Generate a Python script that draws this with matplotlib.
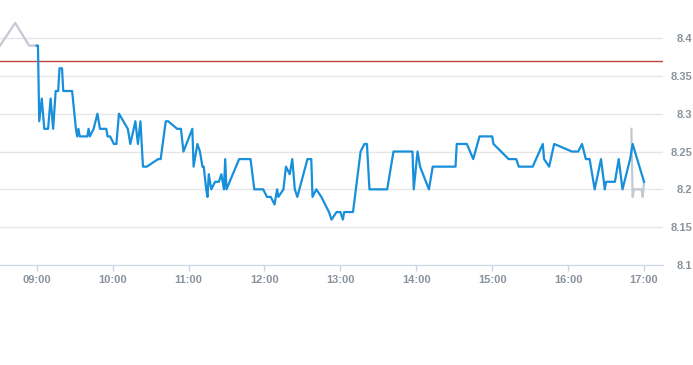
import pandas as pd
import matplotlib
matplotlib.use('Agg')
import matplotlib.pyplot as plt
import matplotlib.dates as mdates

plt.rcParams['font.family'] = ['Liberation Sans', 'DejaVu Sans']

# 盘中成交价
times = ['09:00', '09:01', '09:02', '09:04', '09:06', '09:09', '09:11', '09:13', '09:15', '09:17',
         '09:18', '09:20', '09:21', '09:28', '09:31', '09:32', '09:33', '09:34', '09:40', '09:41',
         '09:42', '09:45', '09:48', '09:50', '09:55', '09:56', '09:58', '10:01', '10:03', '10:05',
         '10:12', '10:14', '10:18', '10:20', '10:22', '10:24', '10:27', '10:36', '10:38', '10:42',
         '10:44', '10:51', '10:54', '10:56', '11:03', '11:04', '11:07', '11:09', '11:11', '11:12',
         '11:14', '11:15', '11:16', '11:18', '11:21', '11:24', '11:26', '11:27', '11:28', '11:29',
         '11:30', '11:40', '11:49', '11:52', '11:59', '12:02', '12:05', '12:08', '12:10', '12:11',
         '12:15', '12:17', '12:20', '12:22', '12:24', '12:26', '12:34', '12:37', '12:38', '12:41',
         '12:45', '12:48', '12:51', '12:53', '12:57', '13:00', '13:02', '13:03', '13:10', '13:16',
         '13:19', '13:21', '13:23', '13:37', '13:42', '13:57', '13:58', '14:01', '14:03', '14:10',
         '14:13', '14:31', '14:32', '14:40', '14:45', '14:50', '15:00', '15:01', '15:13', '15:19',
         '15:21', '15:32', '15:40', '15:41', '15:45', '15:49', '16:03', '16:08', '16:11', '16:14',
         '16:17', '16:21', '16:26', '16:29', '16:30', '16:37', '16:40', '16:43', '16:49', '16:51',
         '17:00']
prices = [8.39, 8.39, 8.29, 8.32, 8.28, 8.28, 8.32, 8.28, 8.33, 8.33,
          8.36, 8.36, 8.33, 8.33, 8.28, 8.27, 8.28, 8.27, 8.27, 8.28,
          8.27, 8.28, 8.30, 8.28, 8.28, 8.27, 8.27, 8.26, 8.26, 8.30,
          8.28, 8.26, 8.29, 8.26, 8.29, 8.23, 8.23, 8.24, 8.24, 8.29,
          8.29, 8.28, 8.28, 8.25, 8.28, 8.23, 8.26, 8.25, 8.23, 8.23,
          8.20, 8.19, 8.22, 8.20, 8.21, 8.21, 8.22, 8.21, 8.20, 8.24,
          8.20, 8.24, 8.24, 8.20, 8.20, 8.19, 8.19, 8.18, 8.20, 8.19,
          8.20, 8.23, 8.22, 8.24, 8.20, 8.19, 8.24, 8.24, 8.19, 8.20,
          8.19, 8.18, 8.17, 8.16, 8.17, 8.17, 8.16, 8.17, 8.17, 8.25,
          8.26, 8.26, 8.20, 8.20, 8.25, 8.25, 8.20, 8.25, 8.23, 8.20,
          8.23, 8.23, 8.26, 8.26, 8.24, 8.27, 8.27, 8.26, 8.24, 8.24,
          8.23, 8.23, 8.26, 8.24, 8.23, 8.26, 8.25, 8.25, 8.26, 8.24,
          8.24, 8.20, 8.24, 8.20, 8.21, 8.21, 8.24, 8.20, 8.24, 8.26,
          8.21]

# 开市前 / 收市竞价
pre_times = ['08:31', '08:43', '08:54', '09:00']
pre_prices = [8.39, 8.42, 8.39, 8.39]
auction_times = ['16:50', '16:51', '16:52', '16:58', '16:59', '17:00']
auction_prices = [8.28, 8.19, 8.20, 8.20, 8.19, 8.21]

prev_close = 8.37
yticks = [8.1, 8.15, 8.2, 8.25, 8.3, 8.35, 8.4]
ylabels = ['8.1', '8.15', '8.2', '8.25', '8.3', '8.35', '8.4']
hours = ['09:00', '10:00', '11:00', '12:00', '13:00', '14:00', '15:00', '16:00', '17:00']


def to_dt(lst):
    return pd.to_datetime(['2024-01-02 ' + t for t in lst])


fig = plt.figure(figsize=(6.93, 3.65), dpi=100)
ax = fig.add_axes([0, 1 - 265 / 365, 663 / 693, 265 / 365])

ax.plot(to_dt(pre_times), pre_prices, color='#c2c9d1', lw=1.6, zorder=3)
ax.plot(to_dt(auction_times), auction_prices, color='#c2c9d1', lw=1.6, zorder=3)
ax.plot(to_dt(times), prices, color='#178fdb', lw=1.6, zorder=4)
ax.axhline(prev_close, color='#c2453c', lw=1.0, zorder=2)

ax.set_xlim(to_dt(['08:31'])[0], to_dt(['17:15'])[0])
ax.set_ylim(8.1, 8.4503)

ax.set_yticks(yticks)
ax.set_yticklabels(ylabels)
ax.yaxis.tick_right()
ax.tick_params(axis='y', length=0, pad=21, labelsize=8, labelcolor='#8a939d')
for lab in ax.get_yticklabels():
    lab.set_horizontalalignment('right')
    lab.set_fontweight('bold')
ax.grid(axis='y', color='#e6e6e6', lw=1.0)

ax.set_xticks(to_dt(hours))
ax.xaxis.set_major_formatter(mdates.DateFormatter('%H:%M'))
ax.tick_params(axis='x', length=4, width=1, color='#ccd6eb', pad=3, labelsize=8,
               labelcolor='#8a939d')
for lab in ax.get_xticklabels():
    lab.set_fontweight('bold')

for s in ['top', 'left', 'right']:
    ax.spines[s].set_visible(False)
ax.spines['bottom'].set_color('#ccd6eb')
ax.set_axisbelow(True)

fig.savefig('out.png', dpi=100)
